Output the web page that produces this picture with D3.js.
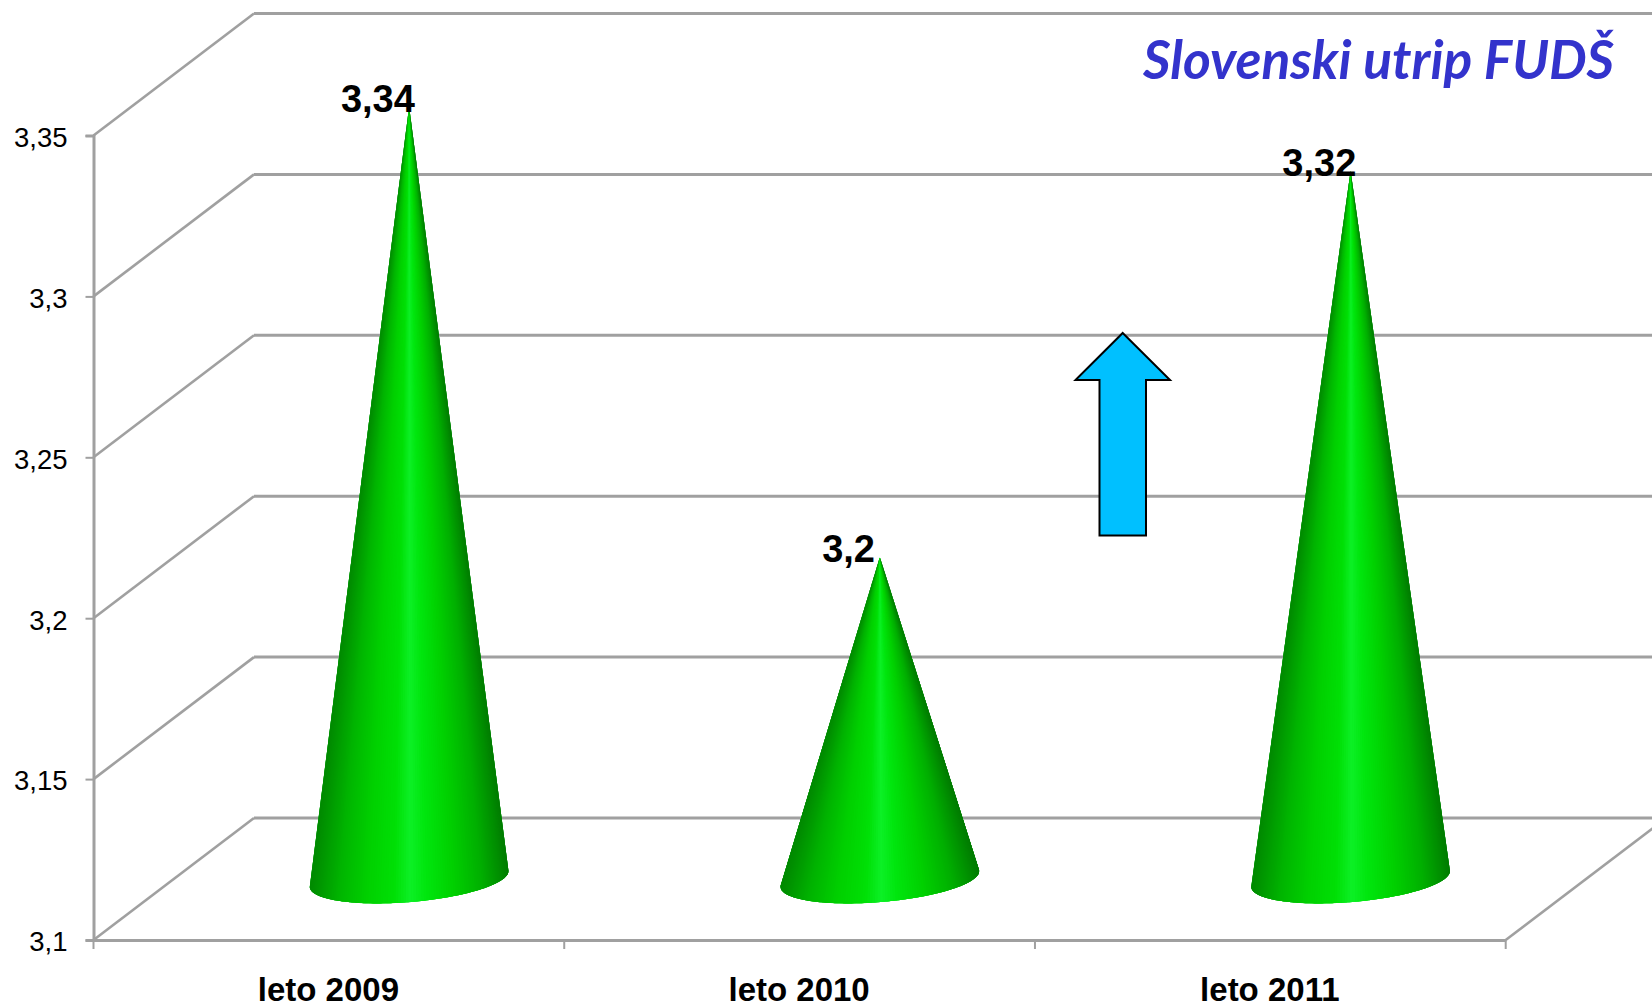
<!DOCTYPE html>
<html>
<head>
<meta charset="utf-8">
<script src="https://cdn.jsdelivr.net/npm/d3@7"></script>
<style>
  body { margin: 0; background: #fff; }
  svg { display: block; opacity: 0.999; }
</style>
</head>
<body>
<div id="chart"></div>
<script>
const categories = ["leto 2009", "leto 2010", "leto 2011"];
const values = [3.34, 3.2, 3.32];
const valueLabels = ["3,34", "3,2", "3,32"];
const yTicks = [3.1, 3.15, 3.2, 3.25, 3.3, 3.35];
const yTickLabels = ["3,1", "3,15", "3,2", "3,25", "3,3", "3,35"];
const chartTitle = "Slovenski utrip FUDŠ";

const WIDTH = 1652;
const HEIGHT = 1005;
const GRID = "#a0a0a0";

// front edge of the 3d box and how far the back wall is shifted from it
const LEFT = 93.5;
const RIGHT = 1505.7;
const FLOOR = 940;
const TOP = 135.5;
const DEPTH_X = 160.5;
const DEPTH_Y = 122;

const x = d3.scaleBand().domain(categories).range([LEFT, RIGHT]);
const y = d3.scaleLinear().domain([3.1, 3.35]).range([FLOOR, TOP]);

const shade = d3
  .scaleLinear()
  .domain([0, 0.06, 0.14, 0.28, 0.42, 0.5, 0.58, 0.72, 0.86, 0.95, 1])
  .range(["#008a00", "#009c00", "#00b400", "#00d000", "#00e006", "#0cf026", "#00e60e", "#00d000", "#00b000", "#009000", "#007c00"]);

const svg = d3
  .select("#chart")
  .append("svg")
  .attr("width", WIDTH)
  .attr("height", HEIGHT);

// back wall lines and the left wall diagonals
const grid = svg.append("g").attr("stroke", GRID).attr("fill", "none");
grid
  .selectAll("line.back")
  .data(yTicks)
  .enter()
  .append("line")
  .attr("class", "back")
  .attr("x1", LEFT + DEPTH_X)
  .attr("x2", WIDTH)
  .attr("y1", (d) => y(d) - DEPTH_Y)
  .attr("y2", (d) => y(d) - DEPTH_Y)
  .attr("stroke-width", 3);
grid
  .selectAll("line.side")
  .data(yTicks)
  .enter()
  .append("line")
  .attr("class", "side")
  .attr("x1", LEFT)
  .attr("x2", LEFT + DEPTH_X)
  .attr("y1", (d) => y(d))
  .attr("y2", (d) => y(d) - DEPTH_Y)
  .attr("stroke-width", 2.6);

// right floor edge, runs off the page
grid
  .append("line")
  .attr("x1", RIGHT)
  .attr("x2", RIGHT + DEPTH_X)
  .attr("y1", FLOOR)
  .attr("y2", FLOOR - DEPTH_Y)
  .attr("stroke-width", 2.6);

const yAxis = d3
  .axisLeft(y)
  .tickValues(yTicks)
  .tickSize(8)
  .tickPadding(18)
  .tickFormat((d, i) => yTickLabels[i]);
const yGroup = svg
  .append("g")
  .attr("transform", `translate(${LEFT},0)`)
  .call(yAxis);
yGroup.select(".domain").attr("stroke", GRID).attr("stroke-width", 3);
yGroup.selectAll(".tick line").attr("stroke", GRID).attr("stroke-width", 2);
yGroup
  .selectAll(".tick text")
  .attr("fill", "#000")
  .attr("y", 2)
  .style("font-family", "'Liberation Sans', Arial, sans-serif")
  .style("font-size", "27.5px");

const xAxis = d3.axisBottom(x).tickValues([]).tickSizeOuter(0);
const xGroup = svg
  .append("g")
  .attr("transform", `translate(0,${FLOOR})`)
  .call(xAxis);
xGroup.select(".domain").attr("stroke", GRID).attr("stroke-width", 3);
xGroup
  .selectAll("line.sep")
  .data(d3.range(categories.length + 1))
  .enter()
  .append("line")
  .attr("class", "sep")
  .attr("x1", (i) => LEFT + i * x.bandwidth())
  .attr("x2", (i) => LEFT + i * x.bandwidth())
  .attr("y1", 0)
  .attr("y2", 9)
  .attr("stroke", GRID)
  .attr("stroke-width", 2);

xGroup
  .selectAll("text.cat")
  .data(categories)
  .enter()
  .append("text")
  .attr("class", "cat")
  .attr("x", (d) => x(d) + x.bandwidth() / 2 - 0.5)
  .attr("y", 60.5)
  .attr("text-anchor", "middle")
  .attr("fill", "#000")
  .style("font-family", "'Liberation Sans', Arial, sans-serif")
  .style("font-weight", "bold")
  .style("font-size", "33px")
  .text((d) => d);

// cone base is a circle lying on the floor, so a sheared ellipse on the page
const BASE_A = 94;
const BASE_B = 0.2;
function basePoint(cx, cy, t) {
  return [
    cx + BASE_A * Math.cos(t) + DEPTH_X * BASE_B * Math.sin(t),
    cy - DEPTH_Y * BASE_B * Math.sin(t),
  ];
}

function drawCone(d, i) {
  const cx = x(categories[i]) + x.bandwidth() / 2 + DEPTH_X / 2;
  const cy = FLOOR - DEPTH_Y / 2;
  const apex = [cx, y(d) - DEPTH_Y / 2];

  const steps = d3.range(0, 720).map((k) => (k / 720) * 2 * Math.PI);
  const ring = steps.map((t) => basePoint(cx, cy, t));
  const hull = d3.polygonHull(ring.concat([apex]));
  const xMin = d3.min(ring, (p) => p[0]);
  const xMax = d3.max(ring, (p) => p[0]);

  // the visible base arc, left to right
  const arc = hull.filter((p) => p !== apex).sort((a, b) => a[0] - b[0]);
  const g = d3.select(this);
  g.append("path")
    .attr("d", "M" + hull.join("L") + "Z")
    .attr("fill", shade(0.5));

  // each slice overlaps the next one so no seams show through
  const step = 3;
  const starts = d3.range(0, arc.length - 1, step);
  g.selectAll("path.slice")
    .data(starts)
    .enter()
    .append("path")
    .attr("class", "slice")
    .attr("d", (k) => {
      const end = arc[Math.min(k + step * 3, arc.length - 1)];
      return "M" + [apex, arc[k], arc[Math.min(k + step, arc.length - 1)], end].join("L") + "Z";
    })
    .attr("fill", (k) => shade((arc[k][0] - xMin) / (xMax - xMin)));
}

svg
  .append("g")
  .selectAll("g.cone")
  .data(values)
  .enter()
  .append("g")
  .attr("class", "cone")
  .each(drawCone);

svg
  .append("g")
  .selectAll("text.value")
  .data(values)
  .enter()
  .append("text")
  .attr("class", "value")
  .attr("x", (d, i) => x(categories[i]) + x.bandwidth() / 2 + 49)
  .attr("y", (d) => y(d) - DEPTH_Y / 2 + 5)
  .attr("text-anchor", "middle")
  .style("font-family", "'Liberation Sans', Arial, sans-serif")
  .style("font-weight", "bold")
  .style("font-size", "38px")
  .text((d, i) => valueLabels[i]);

// the arrow was pasted on top of the chart
const arrow = d3.line()([
  [1122.7, 333],
  [1170, 380],
  [1146, 380],
  [1146, 535.5],
  [1099.5, 535.5],
  [1099.5, 380],
  [1075.5, 380],
]);
svg
  .append("path")
  .attr("d", arrow + "Z")
  .attr("fill", "#00c0ff")
  .attr("stroke", "#000")
  .attr("stroke-width", 2);

svg
  .append("text")
  .attr("x", 1614)
  .attr("y", 79)
  .attr("text-anchor", "end")
  .attr("fill", "#3333cc")
  .style("font-family", "Lato, sans-serif")
  .style("font-weight", "bold")
  .style("font-style", "italic")
  .style("font-size", "53.3px")
  .text(chartTitle);
</script>
</body>
</html>
